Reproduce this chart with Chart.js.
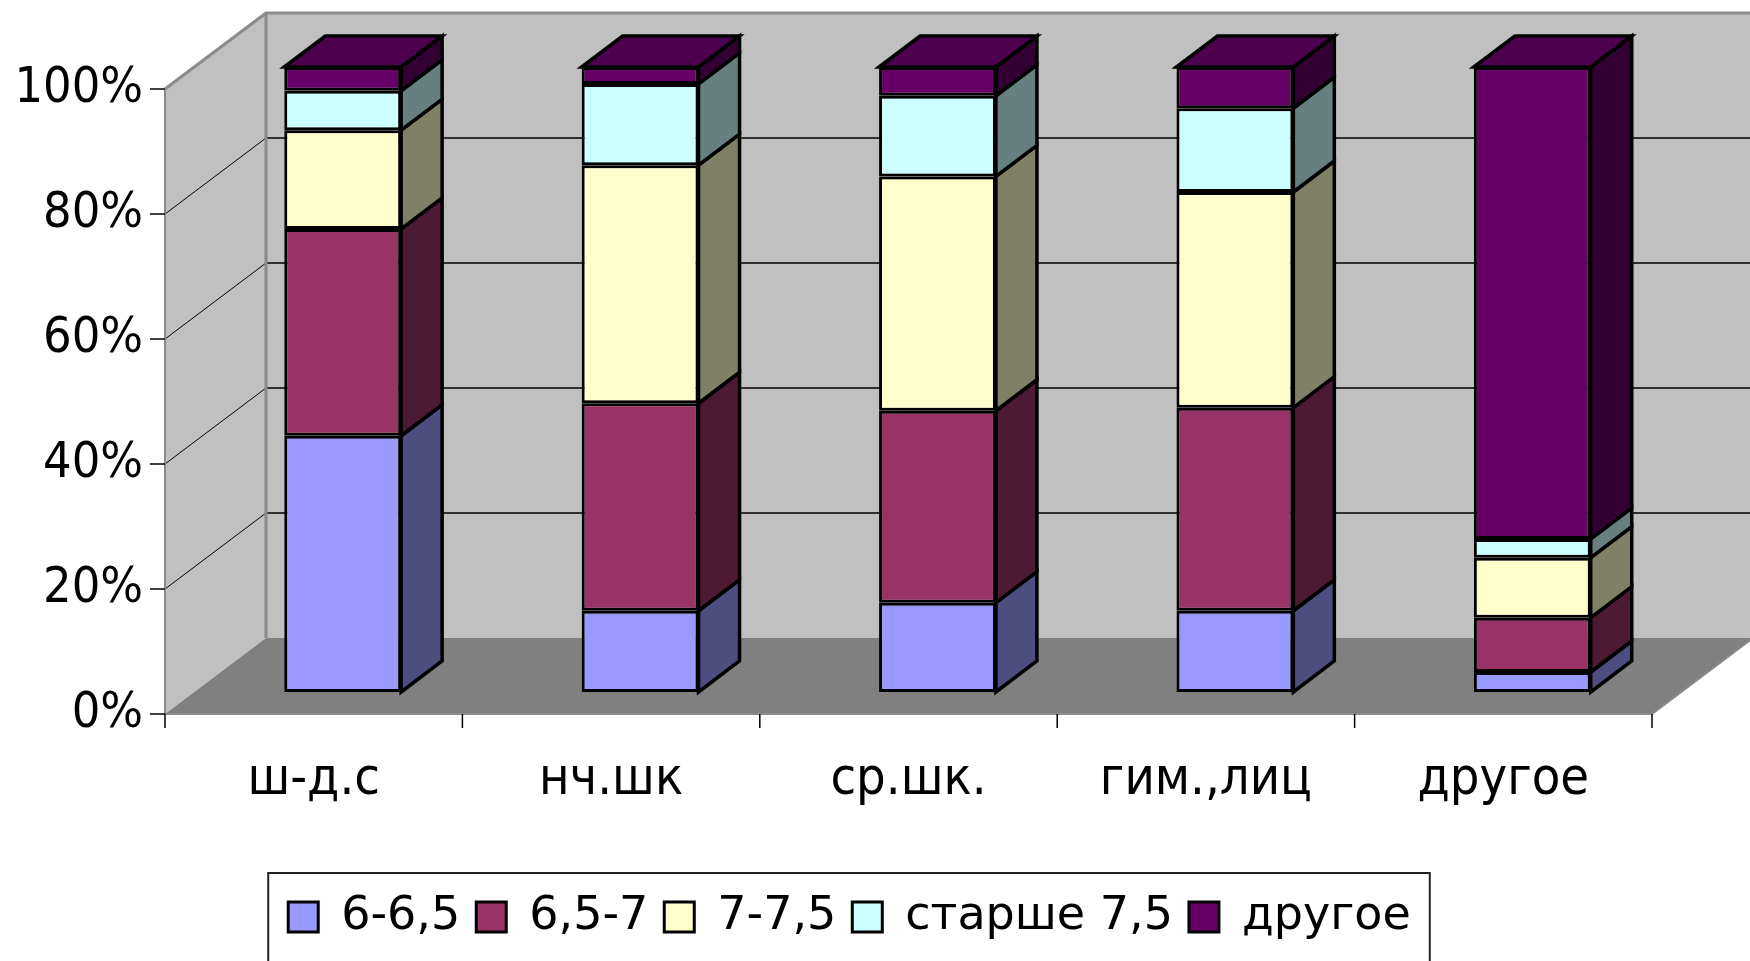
<!DOCTYPE html>
<html>
<head>
<meta charset="utf-8">
<script src="https://cdn.jsdelivr.net/npm/chart.js@4.4.1/dist/chart.umd.min.js"></script>
<style>
html, body { margin: 0; padding: 0; background: #fff; }
#wrap { width: 1750px; height: 961px; }
</style>
</head>
<body>
<div id="wrap"><canvas id="chart"></canvas></div>
<script>
const categories = ["ш-д.с", "нч.шк", "ср.шк.", "гим.,лиц", "другое"];
const seriesNames = ["6-6,5", "6,5-7", "7-7,5", "старше 7,5", "другое"];
const age60 = [41.0, 13.0, 14.3, 13.0, 3.2];
const age65 = [33.1, 33.2, 30.7, 32.5, 8.7];
const age70 = [15.8, 38.1, 37.5, 34.5, 9.6];
const age75 = [6.3, 13.0, 12.9, 13.4, 3.0];
const other = [3.8, 2.7, 4.6, 6.6, 75.5];
const yTicks = [0, 20, 40, 60, 80, 100];

const frontColors = ["#9999ff", "#993366", "#ffffcc", "#ccffff", "#660066"];
const sideColors = ["#4d4d80", "#4d1a33", "#808066", "#668080", "#330033"];
const topColors = ["#7373bf", "#73264d", "#bfbf99", "#99bfbf", "#4d004d"];

// offsets of the 3D planes relative to the bars' front face
const FRONT = { dx: -29, dy: 22 };
const BACK = { dx: 72, dy: -54 };
const DEPTH = { dx: 41, dy: -31 };
const COND = '"DejaVu Sans Condensed", "DejaVu Sans", sans-serif';
const REG = '"DejaVu Sans", sans-serif';

function line(ctx, pts) {
    ctx.beginPath();
    ctx.moveTo(pts[0][0], pts[0][1]);
    for (let i = 1; i < pts.length; i++) ctx.lineTo(pts[i][0], pts[i][1]);
    ctx.stroke();
}
function poly(ctx, pts, fill, stroke) {
    ctx.beginPath();
    ctx.moveTo(pts[0][0], pts[0][1]);
    for (let i = 1; i < pts.length; i++) ctx.lineTo(pts[i][0], pts[i][1]);
    ctx.closePath();
    ctx.fillStyle = fill;
    ctx.fill();
    if (stroke) { ctx.strokeStyle = stroke; ctx.stroke(); }
}

const box3d = {
    id: 'box3d',
    beforeDatasetsDraw(chart) {
        const ctx = chart.ctx, a = chart.chartArea, y = chart.scales.y;
        const y0 = y.getPixelForValue(0), y1 = y.getPixelForValue(100);
        const fl = a.left + FRONT.dx, fr = a.right + FRONT.dx;
        const bl = a.left + BACK.dx, br = a.right + BACK.dx;
        ctx.save();
        ctx.fillStyle = '#c0c0c0';
        ctx.fillRect(bl, y1 + BACK.dy, br - bl, y0 - y1);
        poly(ctx, [[fl, y1 + FRONT.dy], [bl, y1 + BACK.dy], [bl, y0 + BACK.dy], [fl, y0 + FRONT.dy]], '#c0c0c0');
        poly(ctx, [[fl, y0 + FRONT.dy], [bl, y0 + BACK.dy], [br, y0 + BACK.dy], [fr, y0 + FRONT.dy]], '#808080');

        ctx.strokeStyle = '#000';
        yTicks.forEach(v => {
            if (v === 0 || v === 100) return;
            const py = y.getPixelForValue(v);
            ctx.lineWidth = 1;
            line(ctx, [[fl, py + FRONT.dy], [bl, py + BACK.dy]]);
            ctx.lineWidth = 1.5;
            line(ctx, [[bl, py + BACK.dy], [br, py + BACK.dy]]);
        });

        ctx.strokeStyle = '#8a8a8a';
        ctx.lineWidth = 3;
        line(ctx, [[fl, y1 + FRONT.dy], [bl, y1 + BACK.dy], [br + 5, y1 + BACK.dy]]);
        line(ctx, [[bl, y1 + BACK.dy], [bl, y0 + BACK.dy]]);
        ctx.lineWidth = 2;
        line(ctx, [[fl, y1 + FRONT.dy], [fl, y0 + FRONT.dy]]);
        line(ctx, [[fl, y0 + FRONT.dy], [fr, y0 + FRONT.dy], [br, y0 + BACK.dy]]);

        ctx.strokeStyle = '#000';
        ctx.lineWidth = 1.5;
        yTicks.forEach(v => {
            const py = y.getPixelForValue(v) + FRONT.dy;
            line(ctx, [[fl - 15, py], [fl, py]]);
        });
        const n = categories.length;
        for (let i = 0; i <= n; i++) {
            const px = a.left + i * a.width / n + FRONT.dx;
            line(ctx, [[px, y0 + FRONT.dy], [px, y0 + FRONT.dy + 14]]);
        }
        ctx.restore();
    },
    afterDatasetsDraw(chart) {
        const ctx = chart.ctx;
        ctx.save();
        ctx.lineWidth = 3.5;
        ctx.lineJoin = 'miter';
        const last = chart.data.datasets.length - 1;
        chart.data.datasets.forEach((ds, di) => {
            const meta = chart.getDatasetMeta(di);
            meta.data.forEach(el => {
                const p = el.getProps(['x', 'y', 'base', 'width'], true);
                const xl = p.x - p.width / 2, xr = p.x + p.width / 2;
                const yt = Math.min(p.y, p.base), yb = Math.max(p.y, p.base);
                poly(ctx, [[xr, yb], [xr + DEPTH.dx, yb + DEPTH.dy], [xr + DEPTH.dx, yt + DEPTH.dy], [xr, yt]], sideColors[di], '#000');
                if (di === last) {
                    poly(ctx, [[xl, yt], [xl + DEPTH.dx, yt + DEPTH.dy], [xr + DEPTH.dx, yt + DEPTH.dy], [xr, yt]], topColors[di], '#000');
                }
            });
        });
        ctx.restore();
    },
    afterDraw(chart) {
        const lg = chart.legend;
        if (!lg || !lg.legendHitBoxes.length) return;
        const hb = lg.legendHitBoxes;
        const left = Math.min(...hb.map(h => h.left)) - 20;
        const right = Math.max(...hb.map(h => h.left + h.width)) + 19;
        const top = hb[0].top - 21;
        const ctx = chart.ctx;
        ctx.save();
        ctx.strokeStyle = '#222';
        ctx.lineWidth = 2;
        ctx.strokeRect(left, top, right - left, 961 - top + 10);
        ctx.restore();
    }
};

const data = [age60, age65, age70, age75, other];

new Chart(document.getElementById('chart'), {
    type: 'bar',
    data: {
        labels: categories,
        datasets: data.map((vals, i) => ({
            label: seriesNames[i],
            data: vals,
            backgroundColor: frontColors[i],
            borderColor: '#000',
            borderWidth: 3,
            borderSkipped: false,
            categoryPercentage: 1,
            barPercentage: 0.393
        }))
    },
    options: {
        responsive: true,
        maintainAspectRatio: false,
        animation: false,
        devicePixelRatio: 1,
        layout: { padding: { top: 67, right: 69, left: 18, bottom: 11 } },
        plugins: {
            tooltip: { enabled: false },
            legend: {
                position: 'bottom',
                labels: {
                    color: '#000',
                    font: { family: REG, size: 46 },
                    boxWidth: 30,
                    boxHeight: 30,
                    padding: 16
                }
            }
        },
        scales: {
            x: {
                stacked: true,
                grid: { display: false, drawTicks: false },
                border: { display: false },
                ticks: { color: '#000', font: { family: COND, size: 52 }, padding: 57, labelOffset: -29 },
                afterFit(s) { s.height = 186; s.paddingLeft = 0; s.paddingRight = 0; }
            },
            y: {
                stacked: true,
                min: 0,
                max: 100,
                grid: { display: false, drawTicks: false },
                border: { display: false },
                ticks: {
                    stepSize: 20,
                    color: '#000',
                    font: { family: COND, size: 50 },
                    padding: 51,
                    labelOffset: 22,
                    callback: v => v + '%'
                },
                afterFit(s) { s.width = 176; s.paddingTop = 0; s.paddingBottom = 0; }
            }
        }
    },
    plugins: [box3d]
});
</script>
</body>
</html>
